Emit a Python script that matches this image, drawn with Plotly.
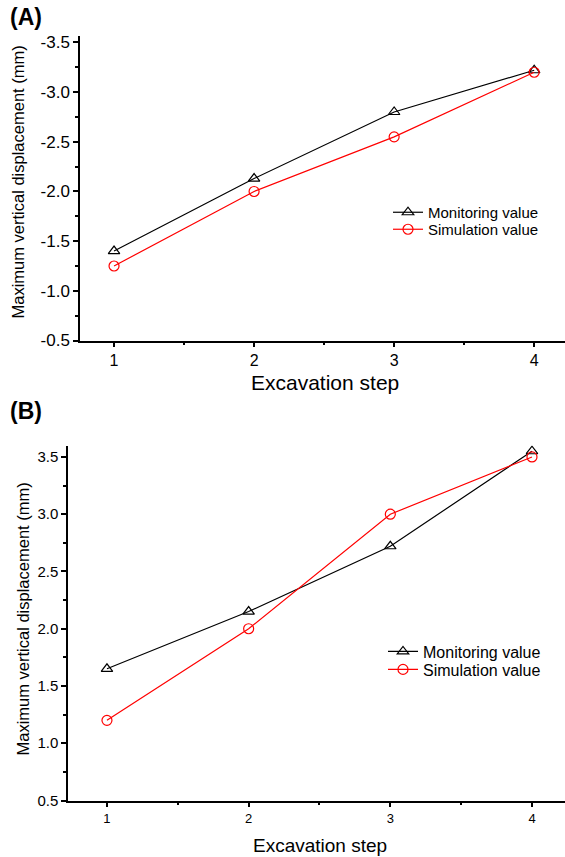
import plotly.graph_objects as go

steps = [1, 2, 3, 4]

# panel A (negative settlement values, axis reversed)
monitor_a = [-1.40, -2.13, -2.80, -3.22]
simulate_a = [-1.25, -2.00, -2.55, -3.20]
yticks_a = [-0.5, -1.0, -1.5, -2.0, -2.5, -3.0, -3.5]
ylabels_a = ["-0.5", "-1.0", "-1.5", "-2.0", "-2.5", "-3.0", "-3.5"]

# panel B
monitor_b = [1.65, 2.15, 2.72, 3.55]
simulate_b = [1.20, 2.00, 3.00, 3.50]

W, H = 565, 857
# vertical placement measured against the rendered page
HV = 845
FONT = "Liberation Sans, Arial, sans-serif"


def px_x(v):
    return v / W


def px_y(v):
    return 1 - (v - 1.5) / HV


fig = go.Figure()

# one legend box per entry so the row spacing can match the original
for name, ys, color, sym, xa, ya, leg in [
    ("Monitoring value", monitor_a, "black", "triangle-up-open", "x", "y", "legend"),
    ("Simulation value", simulate_a, "red", "circle-open", "x", "y", "legend2"),
    ("Monitoring value", monitor_b, "black", "triangle-up-open", "x2", "y2", "legend3"),
    ("Simulation value", simulate_b, "red", "circle-open", "x2", "y2", "legend4"),
]:
    fig.add_trace(go.Scatter(
        x=steps, y=ys, name=name, mode="lines+markers",
        line=dict(color=color, width=1.2),
        marker=dict(symbol=sym, size=10, color=color, line=dict(width=1.2, color=color)),
        xaxis=xa, yaxis=ya, legend=leg, showlegend=True,
    ))

axis_common = dict(showline=True, linecolor="black", linewidth=1.5, showgrid=False,
                   zeroline=False, ticks="outside", ticklen=5, tickwidth=1.5,
                   tickcolor="black", mirror=False)

ytitle = "Maximum vertical displacement (mm)"


def leg(x, y, size):
    return dict(x=px_x(x), y=px_y(y), xanchor="left", yanchor="middle",
                bgcolor="rgba(0,0,0,0)", font=dict(size=size), itemwidth=30,
                borderwidth=0)


fig.update_layout(
    width=W, height=H, autosize=False, showlegend=True,
    margin=dict(l=0, r=0, t=0, b=0),
    plot_bgcolor="white", paper_bgcolor="white",
    font=dict(family=FONT, color="black"),
    xaxis=dict(domain=[px_x(80), 1.0], range=[0.757, 4.22], anchor="y",
               tickvals=steps, tickfont=dict(size=16),
               minor=dict(dtick=0.5, tick0=1, ticks="outside", ticklen=3, tickcolor="black"),
               **axis_common),
    yaxis=dict(domain=[px_y(340), px_y(35)], range=[-0.5, -3.57], anchor="x",
               tickvals=yticks_a, ticktext=ylabels_a, tickfont=dict(size=17),
               minor=dict(dtick=0.25, tick0=-0.5, ticks="outside", ticklen=3, tickcolor="black"),
               **axis_common),
    xaxis2=dict(domain=[px_x(68), 1.0], range=[0.725, 4.233], anchor="y2",
                tickvals=steps, tickfont=dict(size=13),
                minor=dict(dtick=0.5, tick0=1, ticks="outside", ticklen=3, tickcolor="black"),
                **axis_common),
    yaxis2=dict(domain=[px_y(800), px_y(445)], range=[0.5, 3.6], anchor="x2",
                dtick=0.5, tick0=0.5, tickformat=".1f", tickfont=dict(size=15),
                minor=dict(dtick=0.25, tick0=0.5, ticks="outside", ticklen=3, tickcolor="black"),
                **axis_common),
    legend=leg(388, 212, 15),
    legend2=leg(388, 229, 15),
    legend3=leg(383, 651, 16),
    legend4=leg(383, 669, 16),
    annotations=[
        dict(text="<b>(A)</b>", x=px_x(8), y=px_y(2), xref="paper", yref="paper",
             xanchor="left", yanchor="top", showarrow=False, font=dict(size=23)),
        dict(text="<b>(B)</b>", x=px_x(8), y=px_y(396), xref="paper", yref="paper",
             xanchor="left", yanchor="top", showarrow=False, font=dict(size=23)),
        dict(text="Excavation step", x=px_x(325), y=px_y(382), xref="paper", yref="paper",
             xanchor="center", yanchor="middle", showarrow=False, font=dict(size=21)),
        dict(text="Excavation step", x=px_x(320), y=px_y(845), xref="paper", yref="paper",
             xanchor="center", yanchor="middle", showarrow=False, font=dict(size=19)),
        dict(text=ytitle, x=px_x(18), y=px_y(182), xref="paper", yref="paper", textangle=-90,
             xanchor="center", yanchor="middle", showarrow=False, font=dict(size=16.5)),
        dict(text=ytitle, x=px_x(22), y=px_y(619), xref="paper", yref="paper", textangle=-90,
             xanchor="center", yanchor="middle", showarrow=False, font=dict(size=16.5)),
    ],
)

fig.write_html(
    "out.html",
    config={"displayModeBar": False, "responsive": False},
    post_script="document.body.style.margin='0';",
)
